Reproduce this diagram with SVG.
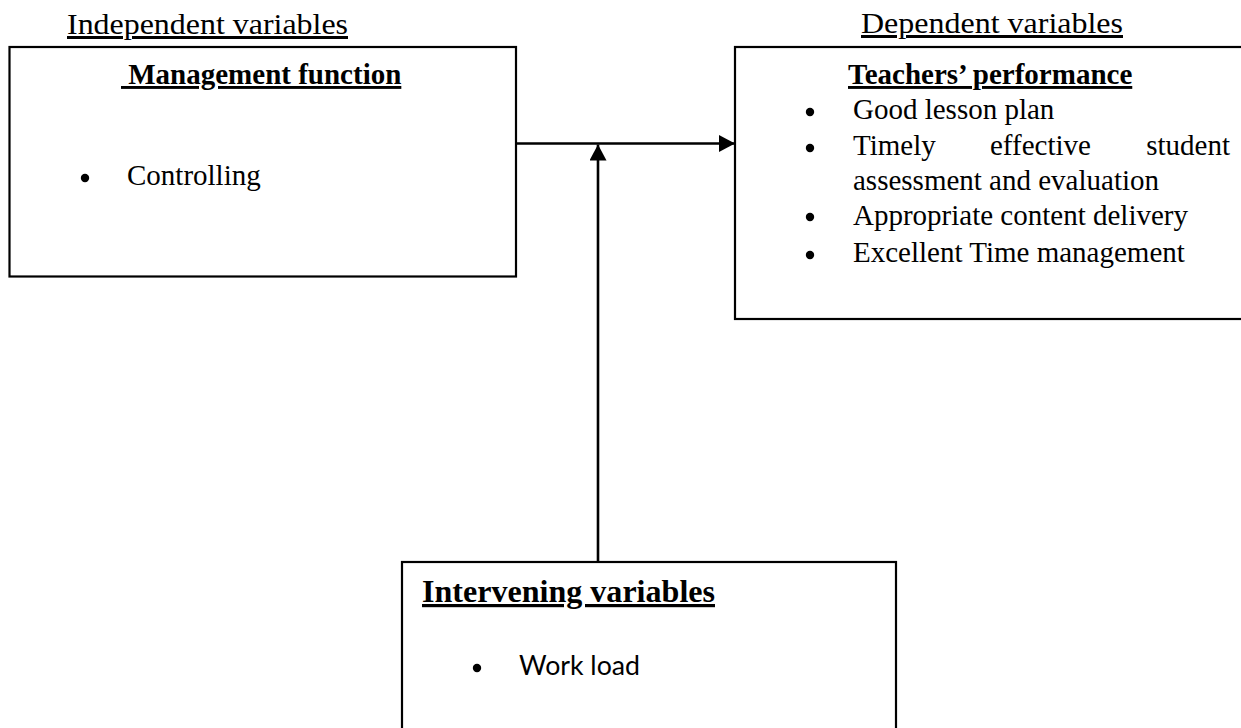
<svg xmlns="http://www.w3.org/2000/svg" width="1241" height="728" viewBox="0 0 1241 728">
  <style>
    .box { fill: #ffffff; stroke: #000000; stroke-width: 2.2; }
    .serif { font-family: "Liberation Serif", "Times New Roman", serif; fill: #000000; }
    .body { font-size: 29px; }
    .head { font-size: 30px; text-decoration: underline; }
    .title { font-size: 29px; font-weight: bold; text-decoration: underline; }
    .sans { font-family: Lato, "Open Sans", "Liberation Sans", sans-serif; font-size: 26px; fill: #000000; }
    .dot { fill: #000000; }
    .conn { fill: none; stroke: #000000; stroke-width: 2.6; }
  </style>
  <defs>
    <marker id="arrow" markerUnits="userSpaceOnUse" markerWidth="16" markerHeight="17" refX="16" refY="8.5" orient="auto">
      <path d="M0,0 L16,8.5 L0,17 z" fill="#000000"/>
    </marker>
  </defs>
  <rect width="1241" height="728" fill="#ffffff"/>

  <text class="serif head" x="67" y="34" textLength="281" lengthAdjust="spacingAndGlyphs">Independent variables</text>
  <text class="serif head" x="861" y="33" textLength="262" lengthAdjust="spacingAndGlyphs">Dependent variables</text>

  <g id="management-function">
    <rect class="box" x="9.5" y="47" width="506.5" height="229.5"/>
    <text class="serif title" x="121" y="84" xml:space="preserve"> Management function</text>
    <circle class="dot" cx="85" cy="178" r="4.2"/>
    <text class="serif body" x="127" y="185">Controlling</text>
  </g>

  <g id="teachers-performance">
    <rect class="box" x="735" y="47" width="520" height="272"/>
    <text class="serif title" x="848" y="84">Teachers’ performance</text>
    <circle class="dot" cx="810" cy="112" r="4.2"/>
    <text class="serif body" x="853" y="119">Good lesson plan</text>
    <circle class="dot" cx="810" cy="148" r="4.2"/>
    <text class="serif body" x="853" y="155">Timely</text>
    <text class="serif body" x="990" y="155">effective</text>
    <text class="serif body" x="1230" y="155" text-anchor="end">student</text>
    <text class="serif body" x="853" y="190">assessment and evaluation</text>
    <circle class="dot" cx="810" cy="217" r="4.2"/>
    <text class="serif body" x="853" y="224.5">Appropriate content delivery</text>
    <circle class="dot" cx="810" cy="255" r="4.2"/>
    <text class="serif body" x="853" y="262">Excellent Time management</text>
  </g>

  <g id="intervening-variables">
    <rect class="box" x="402" y="562" width="494" height="200"/>
    <text class="serif" x="422" y="602" font-size="32" font-weight="bold" text-decoration="underline" textLength="293" lengthAdjust="spacingAndGlyphs">Intervening variables</text>
    <circle class="dot" cx="477" cy="668" r="4.2"/>
    <text class="sans" x="519" y="675" textLength="121" lengthAdjust="spacingAndGlyphs">Work load</text>
  </g>

  <g id="connectors">
    <line class="conn" x1="516" y1="143.5" x2="735" y2="143.5" marker-end="url(#arrow)"/>
    <line class="conn" x1="598" y1="562" x2="598" y2="144.5" marker-end="url(#arrow)"/>
  </g>
</svg>
